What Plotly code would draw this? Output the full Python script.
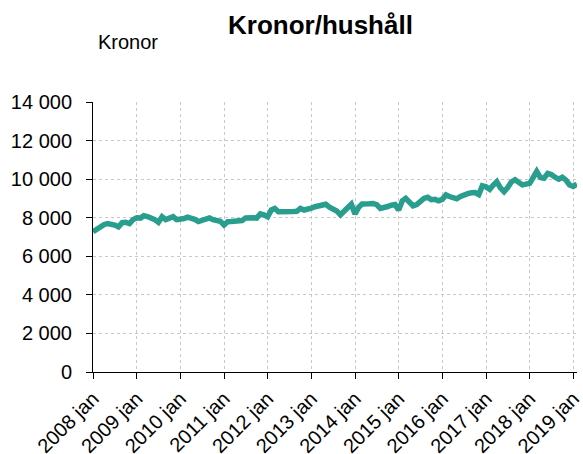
import plotly.graph_objects as go
import pandas as pd

# Monthly values, kronor per household, 2008 jan .. 2019 feb
values = [
    7275, 7400, 7550, 7640, 7700, 7680, 7620, 7530, 7740, 7760, 7700, 7900,   # 2008
    8000, 7980, 8100, 8060, 8000, 7900, 7760, 8050, 7900, 7980, 8050, 7900,   # 2009
    7920, 7960, 8030, 7990, 7915, 7800, 7860, 7950, 7990, 7900, 7870, 7820,   # 2010
    7620, 7790, 7800, 7820, 7830, 7850, 7990, 8030, 8000, 7980, 8200, 8150,   # 2011
    8050, 8400, 8480, 8310, 8310, 8300, 8250, 8320, 8330, 8480, 8400, 8430,   # 2012
    8500, 8570, 8620, 8660, 8700, 8550, 8440, 8350, 8150, 8350, 8600, 8700,   # 2013
    8190, 8550, 8710, 8690, 8720, 8740, 8680, 8480, 8500, 8580, 8650, 8680,   # 2014
    8400, 8880, 9000, 8800, 8620, 8680, 8850, 9000, 9060, 8930, 8950, 8880,   # 2015
    8950, 9180, 9100, 9000, 8980, 9100, 9200, 9250, 9290, 9300, 9200, 9650,   # 2016
    9600, 9470, 9680, 9870, 9550, 9350, 9560, 9850, 9970, 9800, 9700, 9740,   # 2017
    9780, 10100, 10400, 10080, 10050, 10300, 10240, 10100, 10000, 10100, 9950, 9700,  # 2018
    9620, 9750,                                                                # 2019
]
dates = [d.strftime("%Y-%m-%d") for d in pd.date_range("2008-01-01", periods=len(values), freq="MS")]

years = list(range(2008, 2020))
x_tick_vals = [f"{y}-01-01" for y in years]
x_tick_text = [f"{y} jan" for y in years]

y_tick_vals = [0, 2000, 4000, 6000, 8000, 10000, 12000, 14000]
y_tick_text = ["0", "2 000", "4 000", "6 000", "8 000", "10 000", "12 000", "14 000"]

title_text = "Kronor/hushåll"
unit_text = "Kronor"

fig = go.Figure()
fig.add_trace(go.Scatter(
    x=dates, y=values, mode="lines",
    line=dict(color="#2a9e8e", width=5.5),
    showlegend=False, hoverinfo="skip",
))

font_family = "Liberation Sans, Arial, sans-serif"

fig.update_layout(
    width=583, height=454,
    margin=dict(l=93, r=6, t=102, b=82),
    paper_bgcolor="white", plot_bgcolor="white",
    font=dict(family=font_family, size=20, color="black"),
    annotations=[
        dict(text="<b>" + title_text + "</b>", xref="paper", yref="paper",
             x=0.470, y=1.285, xanchor="center", yanchor="middle",
             showarrow=False, font=dict(size=26, color="black")),
        dict(text=unit_text, xref="paper", yref="paper",
             x=0.006, y=1.222, xanchor="left", yanchor="middle",
             showarrow=False, font=dict(size=20, color="black")),
    ],
)

fig.update_xaxes(
    type="date",
    range=["2008-01-01", dates[-1]],
    autorange=False,
    automargin=False,
    tickvals=x_tick_vals, ticktext=x_tick_text,
    tickangle=-45,
    ticklabeloverflow="allow",
    showline=True, linecolor="black", linewidth=1,
    ticks="outside", ticklen=6, tickcolor="black",
    showgrid=True, gridcolor="#c8c8c8", griddash="dot", gridwidth=1,
    zeroline=False,
    tickfont=dict(size=20),
)
fig.update_yaxes(
    range=[0, 14000],
    autorange=False,
    automargin=False,
    tickvals=y_tick_vals, ticktext=y_tick_text,
    showline=True, linecolor="black", linewidth=1,
    ticks="outside", ticklen=6, tickcolor="black",
    showgrid=True, gridcolor="#c8c8c8", griddash="dot", gridwidth=1,
    zeroline=False,
    ticklabelstandoff=10,
    tickfont=dict(size=20),
)

fig.write_html(
    "out.html",
    config={"displayModeBar": False, "staticPlot": True},
    post_script="document.body.style.margin='0';document.body.style.overflow='hidden';",
)
